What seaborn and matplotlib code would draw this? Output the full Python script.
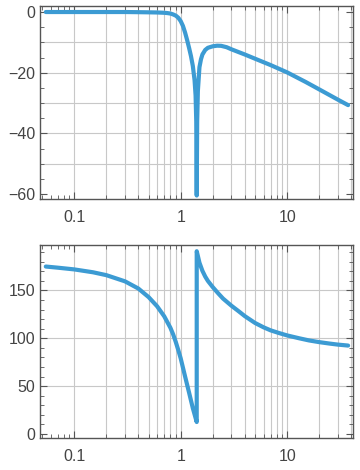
import numpy as np
import pandas as pd
import matplotlib
matplotlib.use("Agg")
import matplotlib.pyplot as plt
import matplotlib.ticker as mticker
import seaborn as sns

# values (frequency, magnitude in dB, phase in degrees)
mag_w = [0.054, 0.1, 0.2, 0.3, 0.4, 0.5, 0.6, 0.7, 0.75, 0.8, 0.85, 0.9,
         0.95, 1.0, 1.05, 1.1, 1.15, 1.2, 1.25, 1.3, 1.35, 1.38, 1.40,
         1.414, 1.428, 1.45, 1.5, 1.55, 1.6, 1.7, 1.8, 2.0, 2.2, 2.4, 2.7,
         3.0, 4.0, 5.0, 7.0, 10.0, 15.0, 20.0, 30.0, 37.4]
mag_db = [0, 0, 0, 0, -0.05, -0.1, -0.15, -0.25, -0.35, -0.5, -0.8, -1.2,
          -1.9, -3.0, -4.6, -6.8, -9.3, -11.9, -14.6, -17.8, -22.5, -27.5,
          -36, -60.5, -36, -26, -18.2, -15.6, -14.0, -12.5, -11.8, -11.3,
          -11.1, -11.15, -11.6, -12.3, -14.0, -15.4, -17.5, -19.9, -23.1,
          -25.5, -28.9, -30.7]

ph_w = [0.054, 0.07, 0.1, 0.15, 0.2, 0.3, 0.4, 0.5, 0.6, 0.7, 0.8, 0.85,
        0.9, 0.95, 1.0, 1.1, 1.2, 1.3, 1.414, 1.4143, 1.45, 1.5, 1.6, 1.7,
        1.8, 2.0, 2.25, 2.5, 3.0, 3.5, 4.0, 5.0, 6.0, 7.0, 8.5, 10.0, 13.0,
        16.0, 20.0, 25.0, 30.0, 37.4]
ph_deg = [175, 173.8, 172, 169, 166, 159.5, 152, 143, 133.5, 123, 111,
          104, 96, 87.5, 79, 60, 43, 27, 12.5, 191, 186, 179, 170.5, 164.5,
          160, 153.5, 147, 141.5, 134, 128.3, 123.2, 116, 111.5, 108.3,
          105.3, 103, 100, 97.8, 96, 94.5, 93.4, 92.4]

line_color = "#3c9bd3"
frame_color = "#555555"
grid_color = "#c8c8c8"

sns.set_style("ticks")
plt.rcParams['font.family'] = ['Liberation Sans', 'DejaVu Sans']

fig = plt.figure(figsize=(3.6, 4.7), dpi=100)
ax_top = fig.add_axes([0.111, 0.5766, 0.869, 0.4106])
ax_bot = fig.add_axes([0.111, 0.0681, 0.869, 0.4106])

mag_df = pd.DataFrame({"w": mag_w, "v": mag_db})
ph_df = pd.DataFrame({"w": ph_w, "v": ph_deg})


def style_axes(ax, ylim, y_major, y_minor, y_grid):
    ax.set_xscale("log")
    ax.set_xlim(0.0476, 41.4)
    ax.set_ylim(*ylim)
    ax.set_xlabel("")
    ax.set_ylabel("")

    # grid lines at every 1..9 of each decade and at fixed y steps
    for d in [0.1, 1, 10]:
        for k in range(1, 10):
            xv = d * k
            if 0.0476 < xv < 41.4:
                ax.axvline(xv, color=grid_color, lw=0.8, zorder=0)
    for yv in y_grid:
        ax.axhline(yv, color=grid_color, lw=0.8, zorder=0)

    ax.xaxis.set_major_locator(mticker.FixedLocator([0.1, 1, 10]))
    ax.xaxis.set_major_formatter(mticker.FixedFormatter(["0.1", "1", "10"]))
    ax.xaxis.set_minor_locator(mticker.LogLocator(base=10, subs=np.arange(2, 10)))
    ax.xaxis.set_minor_formatter(mticker.NullFormatter())
    ax.yaxis.set_major_locator(mticker.MultipleLocator(y_major))
    ax.yaxis.set_minor_locator(mticker.MultipleLocator(y_minor))

    ax.tick_params(which="both", direction="in", top=True, right=True,
                   color=frame_color, labelcolor="#444444", labelsize=11.5)
    ax.tick_params(which="major", length=5, width=0.8)
    ax.tick_params(which="minor", length=3, width=0.6)
    ax.tick_params(axis="x", pad=8)
    for s in ax.spines.values():
        s.set_color(frame_color)
        s.set_linewidth(1.0)
        s.set_visible(True)


sns.lineplot(data=mag_df, x="w", y="v", ax=ax_top, color=line_color,
             linewidth=3.0, estimator=None, sort=False, zorder=3)
style_axes(ax_top, (-61.65, 1.98), 20, 5, [-10, -20, -30, -40, -50])

sns.lineplot(data=ph_df, x="w", y="v", ax=ax_bot, color=line_color,
             linewidth=3.0, estimator=None, sort=False, zorder=3)
style_axes(ax_bot, (-4.2, 197.5), 50, 10, [50, 100, 150])

fig.savefig("out.png", dpi=100)
